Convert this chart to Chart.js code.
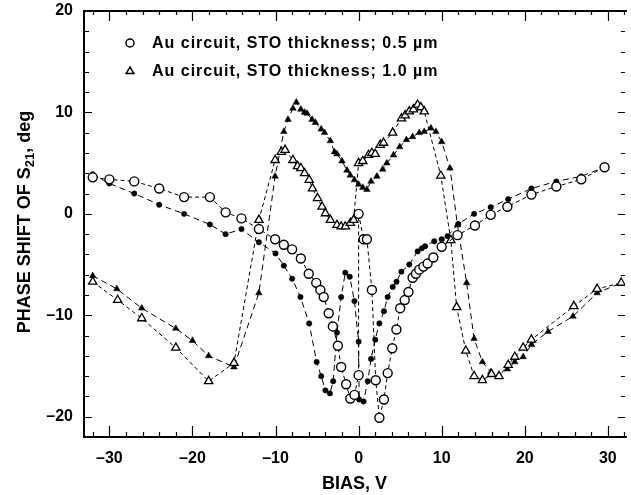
<!DOCTYPE html>
<html>
<head>
<meta charset="utf-8">
<script src="https://cdn.jsdelivr.net/npm/chart.js@4.4.0/dist/chart.umd.min.js"></script>
<style>
html,body{margin:0;padding:0;background:#fff;}
#wrap{width:631px;height:495px;}
</style>
</head>
<body>
<div id="wrap"><canvas id="c" width="631" height="495"></canvas></div>
<script>
// ---- Data ----
const legendLabels = ['Au circuit, STO thickness; 0.5 \u00b5m', 'Au circuit, STO thickness; 1.0 \u00b5m'];

// 0.5 um, open circles
const circOpenX = [-32.0,-30.0,-27.0,-24.0,-21.0,-17.9,-16.0,-14.1,-12.0,-10.05,-9.0,-8.0,-6.95,-6.0,-5.1,-4.6,-4.2,-3.6,-3.1,-2.5,-2.1,-1.5,-1.0,-0.5,0.0,0.0,0.6,1.0,1.6,2.06,2.5,3.05,3.5,4.05,4.55,5.0,5.55,6.0,6.5,6.9,7.3,7.8,8.3,9.0,10.0,11.9,14.0,15.9,17.9,20.8,23.8,26.8,29.6];
const circOpenY = [3.6,3.4,3.2,2.5,1.65,1.65,0.15,-0.45,-1.5,-2.5,-3.05,-3.5,-4.4,-5.9,-6.8,-7.5,-8.2,-9.8,-11.1,-13.0,-15.1,-16.8,-18.2,-17.85,-15.9,0.0,-2.5,-2.5,-7.5,-16.4,-20.1,-18.3,-15.7,-13.25,-11.4,-9.3,-8.5,-7.7,-6.3,-5.9,-5.5,-5.2,-4.9,-4.3,-3.25,-2.1,-1.15,-0.1,0.7,1.9,2.7,3.4,4.6];

// 0.5 um, filled circles
const circFillX = [-32.0,-30.0,-27.0,-24.0,-21.0,-17.9,-16.0,-14.1,-12.0,-10.0,-9.0,-8.0,-7.0,-5.95,-5.05,-4.5,-4.0,-3.45,-3.06,-2.6,-2.1,-1.6,-1.07,-0.5,0.0,0.07,0.6,1.1,1.5,2.0,2.5,3.05,3.5,4.1,4.56,5.15,6.1,7.1,7.6,8.0,9.1,10.0,10.7,12.0,13.9,15.9,18.0,20.8,23.8,26.8,29.6];
const circFillY = [3.9,3.0,2.0,0.9,0.0,-1.05,-2.0,-1.5,-2.8,-3.9,-5.1,-6.4,-8.2,-10.8,-14.6,-16.0,-17.4,-17.7,-16.5,-11.7,-8.2,-5.8,-6.2,-8.6,-12.6,-18.3,-18.5,-16.5,-14.3,-12.4,-10.8,-9.6,-8.2,-7.2,-6.7,-5.7,-5.0,-3.7,-3.4,-3.2,-2.7,-2.5,-2.2,-1.0,0.0,0.66,1.45,2.5,3.2,3.7,4.6];

// 1.0 um, open triangles
const triOpenX = [-32.0,-29.0,-26.1,-22.0,-18.05,-15.0,-12.0,-10.05,-9.3,-8.85,-7.9,-7.35,-6.95,-6.5,-5.95,-5.55,-4.95,-4.4,-4.0,-3.4,-2.6,-2.1,-1.6,-1.0,-0.6,0.0,0.5,1.2,1.6,2.0,2.6,3.0,4.1,5.15,5.6,6.1,6.6,7.1,7.5,7.9,9.9,11.1,11.8,12.9,13.9,14.9,16.0,16.9,18.0,18.8,19.8,20.8,25.9,28.7,31.6];
const triOpenY = [-6.7,-8.5,-10.3,-13.2,-16.5,-14.7,-0.6,5.3,6.1,6.3,5.3,4.7,4.5,4.0,3.35,2.5,1.55,0.7,0.05,-0.6,-1.1,-1.25,-1.25,-0.9,-0.6,5.0,5.2,5.8,6.0,5.9,6.8,7.0,8.0,9.4,9.7,10.1,10.3,10.75,10.5,10.1,3.75,-2.6,-9.2,-13.5,-16.0,-16.4,-15.8,-16.0,-14.9,-14.1,-13.2,-12.4,-9.1,-7.4,-6.8];

// 1.0 um, filled triangles
const triFillX = [-32.0,-29.1,-26.1,-22.0,-20.0,-18.05,-15.0,-12.0,-10.05,-9.0,-8.5,-7.9,-7.5,-6.95,-6.5,-6.2,-5.6,-5.2,-4.5,-4.1,-3.4,-2.9,-2.6,-2.0,-1.4,-1.0,-0.5,0.0,0.5,1.0,1.5,2.2,2.9,3.4,4.2,4.95,5.75,6.5,7.3,7.9,8.7,9.3,10.0,11.0,11.9,13.0,13.9,14.9,15.9,16.9,17.9,18.8,19.8,20.8,22.8,25.8,28.7,31.6];
const triFillY = [-6.1,-7.4,-9.3,-11.3,-12.5,-14.0,-15.1,-7.8,3.7,8.1,9.3,10.4,11.0,10.3,10.0,9.9,9.3,9.0,8.35,8.0,7.2,6.1,5.9,5.2,4.3,3.8,3.35,2.9,2.6,2.4,3.2,3.7,4.4,5.0,5.8,6.6,7.3,7.6,8.0,8.1,8.45,8.1,7.1,4.5,-1.1,-6.8,-12.3,-14.6,-15.6,-16.0,-15.3,-14.6,-14.1,-12.9,-11.6,-10.1,-7.8,-6.8];

const xTicks = [-30,-20,-10,0,10,20,30];
const yTicks = [-20,-10,0,10,20];
const xTitle = 'BIAS, V';
const yTitleParts = ['PHASE SHIFT OF S', '21', ', deg'];

// ---- Helpers ----
const FONT = '"Liberation Sans", Arial, Helvetica, sans-serif';
function pts(xs, ys){ return xs.map((x,i)=>({x:x, y:ys[i]})); }
function fmt(v){ return v < 0 ? '\u2013' + Math.abs(v) : String(v); }

function drawMarker(ctx, style, filled, x, y, r){
  ctx.beginPath();
  if (style === 'circle') {
    ctx.arc(x, y, r, 0, Math.PI*2);
  } else {
    ctx.moveTo(x, y - r);
    ctx.lineTo(x + r*0.95, y + r*0.6);
    ctx.lineTo(x - r*0.95, y + r*0.6);
    ctx.closePath();
  }
  ctx.fillStyle = filled ? '#000' : '#fff';
  ctx.fill();
  ctx.lineWidth = 1.5;
  ctx.strokeStyle = '#000';
  ctx.stroke();
}

const framePlugin = {
  id: 'frame',
  afterDraw(chart){
    const ctx = chart.ctx;
    const a = chart.chartArea;
    const xs = chart.scales.x, ys = chart.scales.y;
    ctx.save();
    ctx.strokeStyle = '#000';
    // spines
    ctx.lineWidth = 2;
    ctx.beginPath();
    ctx.moveTo(a.left, a.top); ctx.lineTo(a.right + 2, a.top);
    ctx.moveTo(a.left, a.top - 1); ctx.lineTo(a.left, a.bottom);
    ctx.moveTo(a.left - 1, a.bottom); ctx.lineTo(a.right + 2, a.bottom);
    ctx.stroke();
    // ticks (inward)
    ctx.lineWidth = 1.2;
    ctx.beginPath();
    for (let v = -32; v <= 32; v += 2) {
      const px = Math.round(xs.getPixelForValue(v)) + 0.5;
      if (px < a.left + 1 || px > a.right) continue;
      const major = (v % 10 === 0);
      ctx.moveTo(px, a.bottom); ctx.lineTo(px, a.bottom - (major ? 11 : 5));
      ctx.moveTo(px, a.top); ctx.lineTo(px, a.top + (major ? 10 : 4));
    }
    for (let v = -22; v <= 20; v += 2) {
      const py = Math.round(ys.getPixelForValue(v)) + 0.5;
      if (py < a.top + 1 || py > a.bottom - 1) continue;
      const major = (v % 10 === 0);
      ctx.moveTo(a.left, py); ctx.lineTo(a.left + (major ? 8 : 5), py);
      ctx.moveTo(a.right, py); ctx.lineTo(a.right - (major ? 7 : 4), py);
    }
    ctx.stroke();

    // legend
    ctx.font = 'bold 16px ' + FONT;
    ctx.fillStyle = '#000';
    ctx.textBaseline = 'middle';
    ctx.textAlign = 'left';
    try { ctx.letterSpacing = '1px'; } catch(e) {}
    const legendRows = [
      {label: legendLabels[0], style:'circle', y: 43},
      {label: legendLabels[1], style:'triangle', y: 71}
    ];
    legendRows.forEach(r => {
      drawMarker(ctx, r.style, false, 130, r.y, 4);
      ctx.fillStyle = '#000';
      ctx.fillText(r.label, 152, r.y + 1);
    });
    try { ctx.letterSpacing = '0px'; } catch(e) {}

    // y title with subscript
    ctx.translate(23, 222);
    ctx.rotate(-Math.PI/2);
    const big = 'bold 18px ' + FONT, small = 'bold 13px ' + FONT;
    ctx.textBaseline = 'alphabetic';
    ctx.font = big; const w1 = ctx.measureText(yTitleParts[0]).width;
    ctx.font = small; const w2 = ctx.measureText(yTitleParts[1]).width;
    ctx.font = big; const w3 = ctx.measureText(yTitleParts[2]).width;
    let x0 = -(w1 + w2 + w3)/2;
    ctx.font = big; ctx.fillText(yTitleParts[0], x0, 6.5);
    ctx.font = small; ctx.fillText(yTitleParts[1], x0 + w1, 10.5);
    ctx.font = big; ctx.fillText(yTitleParts[2], x0 + w1 + w2, 6.5);
    ctx.restore();
  }
};

const lineBase = {
  showLine: true, fill: false, tension: 0,
  borderColor: '#000', borderWidth: 1,
  pointBorderColor: '#000', pointHoverRadius: 0
};

const chart = new Chart(document.getElementById('c'), {
  type: 'scatter',
  data: {
    datasets: [
      Object.assign({}, lineBase, {
        label: legendLabels[0], data: pts(circOpenX, circOpenY),
        borderDash: [4,3], pointStyle: 'circle', pointRadius: 4.5,
        pointBackgroundColor: '#fff', pointBorderWidth: 1.4
      }),
      Object.assign({}, lineBase, {
        label: legendLabels[0] + ' (filled)', data: pts(circFillX, circFillY),
        borderDash: [6,4], pointStyle: 'circle', pointRadius: 2.7,
        pointBackgroundColor: '#000', pointBorderWidth: 0.5
      }),
      Object.assign({}, lineBase, {
        label: legendLabels[1], data: pts(triOpenX, triOpenY),
        borderDash: [4,3], pointStyle: 'triangle', pointRadius: 4.8,
        pointBackgroundColor: '#fff', pointBorderWidth: 1.3
      }),
      Object.assign({}, lineBase, {
        label: legendLabels[1] + ' (filled)', data: pts(triFillX, triFillY),
        borderDash: [6,4], pointStyle: 'triangle', pointRadius: 3.8,
        pointBackgroundColor: '#000', pointBorderWidth: 0.5
      })
    ]
  },
  options: {
    responsive: false,
    animation: false,
    devicePixelRatio: 1,
    layout: { padding: { top: 11, right: 0, left: 0, bottom: 0 } },
    plugins: { legend: { display: false }, tooltip: { enabled: false } },
    scales: {
      x: {
        type: 'linear', min: -33.05, max: 32.05,
        afterBuildTicks: s => { s.ticks = xTicks.map(v => ({ value: v })); },
        afterFit: s => { s.height = 58; s.paddingLeft = 0; s.paddingRight = 0; },
        ticks: {
          font: { family: FONT, size: 16, weight: 'bold' }, color: '#000',
          padding: 12, maxRotation: 0, autoSkip: false, callback: v => fmt(v)
        },
        grid: { display: false, drawTicks: false },
        border: { display: false },
        title: {
          display: true, text: xTitle, color: '#000',
          font: { family: FONT, size: 18, weight: 'bold' },
          padding: { top: 0, bottom: 0 }
        }
      },
      y: {
        type: 'linear', min: -22, max: 20,
        afterBuildTicks: s => { s.ticks = yTicks.map(v => ({ value: v })); },
        afterFit: s => { s.width = 84; s.paddingTop = 0; s.paddingBottom = 0; },
        ticks: {
          font: { family: FONT, size: 16, weight: 'bold' }, color: '#000',
          padding: 11, autoSkip: false, callback: v => fmt(v)
        },
        grid: { display: false, drawTicks: false },
        border: { display: false }
      }
    }
  },
  plugins: [framePlugin]
});
</script>
</body>
</html>
